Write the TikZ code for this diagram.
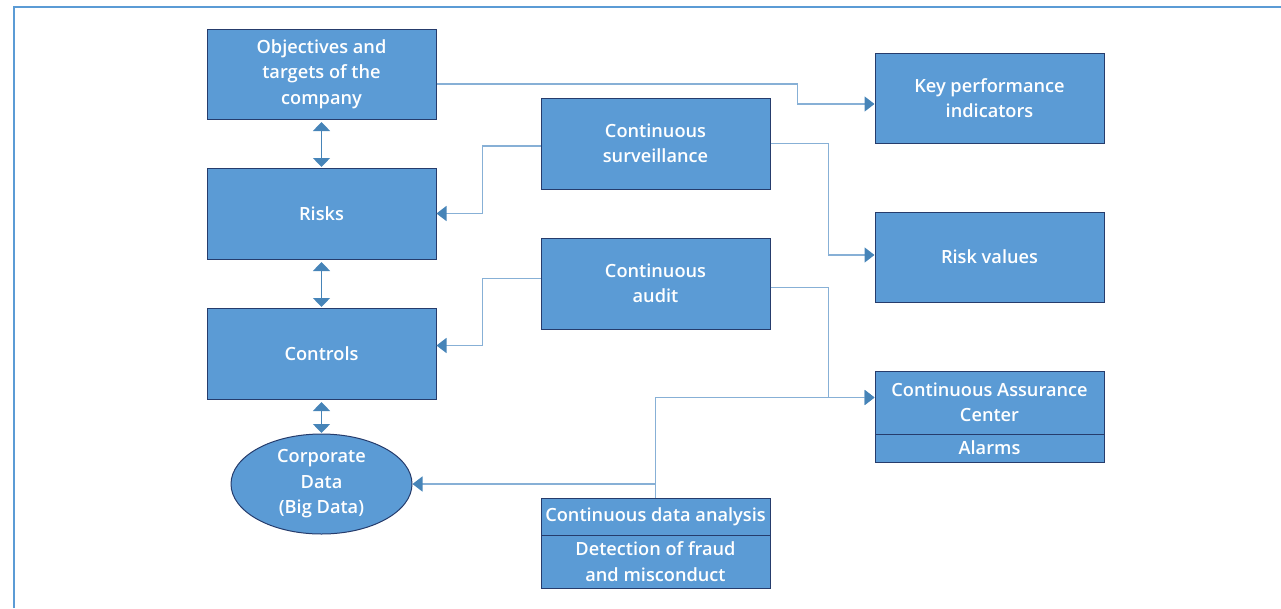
\documentclass[tikz,border=0pt]{standalone}
\usepackage{fontspec}
\setmainfont{Open Sans}
\IfFontExistsTF{OpenSans-Semibold.otf}
  {\newfontfamily\lblfont{OpenSans-Semibold.otf}}
  {\IfFontExistsTF{Open Sans Semibold}
     {\newfontfamily\lblfont{Open Sans Semibold}}
     {\IfFontExistsTF{Open Sans SemiBold}
        {\newfontfamily\lblfont{Open Sans SemiBold}}
        {\newfontfamily\lblfont{Open Sans}}}}
\usetikzlibrary{arrows.meta,shapes.geometric}
\definecolor{boxfill}{RGB}{91,155,213}
\definecolor{boxline}{RGB}{38,60,108}
\definecolor{connc}{RGB}{135,176,214}
\definecolor{tipc}{RGB}{70,132,184}
\definecolor{framec}{RGB}{91,155,213}
\tikzset{
  box/.style={draw=boxline, line width=1pt, fill=boxfill, text=white, align=center,
    inner sep=0pt, font=\lblfont\fontsize{18.2}{25.5}\selectfont},
  conn/.style={draw=connc, line width=1.4pt, -{Triangle[length=10pt,width=15pt,color=tipc]}},
  dbl/.style={draw=tipc, line width=1.4pt, {Triangle[length=9pt,width=17pt]}-{Triangle[length=9pt,width=17pt]},
    shorten <=2.5pt, shorten >=0.5pt}
}
\begin{document}
\begin{tikzpicture}[x=1pt,y=-1pt]
\useasboundingbox (0,0) rectangle (1281,608);
\draw[framec, line width=2pt] (13.5,608) -- (13.5,6.5) -- (1281,6.5);

\node[box, minimum width=229pt, minimum height=90pt] (obj) at (321.5,74) {Objectives and\\targets of the\\company};
\node[box, minimum width=229pt, minimum height=91pt] (risks) at (321.5,213.5) {Risks};
\node[box, minimum width=229pt, minimum height=91pt] (ctrl) at (321.5,353.5) {Controls};
\node[box, ellipse, minimum width=181pt, minimum height=100pt] (data) at (321.5,484) {Corporate\\Data\\(Big Data)};

\node[box, minimum width=229pt, minimum height=91pt] (surv) at (655.5,143.5) {Continuous\\surveillance};
\node[box, minimum width=229pt, minimum height=91pt] (audit) at (655.5,283.5) {Continuous\\audit};
\node[box, minimum width=229pt, minimum height=37pt] (cda) at (655.5,516.5) {Continuous data analysis};
\node[box, minimum width=229pt, minimum height=53pt] (det) at (655.5,561.5) {Detection of fraud\\and misconduct};

\node[box, minimum width=229pt, minimum height=90pt] (kpi) at (989.5,98) {Key performance\\indicators};
\node[box, minimum width=229pt, minimum height=90pt] (rv) at (989.5,257) {Risk values};
\node[box, minimum width=229pt, minimum height=63pt] (cac) at (989.5,402.5) {Continuous Assurance\\Center};
\node[box, minimum width=229pt, minimum height=28pt] (alarm) at (989.5,448) {Alarms};

\draw[dbl] (obj.south) -- (risks.north);
\draw[dbl] (risks.south) -- (ctrl.north);
\draw[dbl] (ctrl.south) -- (data.north);

\draw[conn] ([yshift=-10pt]obj.east) -- ++(361,0) |- ([yshift=-6pt]kpi.west);
\draw[conn] ([yshift=-2.5pt]surv.west) -- ++(-58,0) |- (risks.east);
\draw[conn] (surv.east) -- ++(58,0) |- ([yshift=2pt]rv.west);
\draw[conn] ([yshift=5pt]audit.west) -- ++(-58,0) |- ([yshift=8pt]ctrl.east);
\draw[conn] ([yshift=-4pt]audit.east) -- ++(58,0) |- ([yshift=5pt]cac.west);
\draw[conn] (cda.north) |- ([yshift=5pt]cac.west);
\draw[conn] (cda.north |- data.east) -- (data.east);
\end{tikzpicture}
\end{document}
